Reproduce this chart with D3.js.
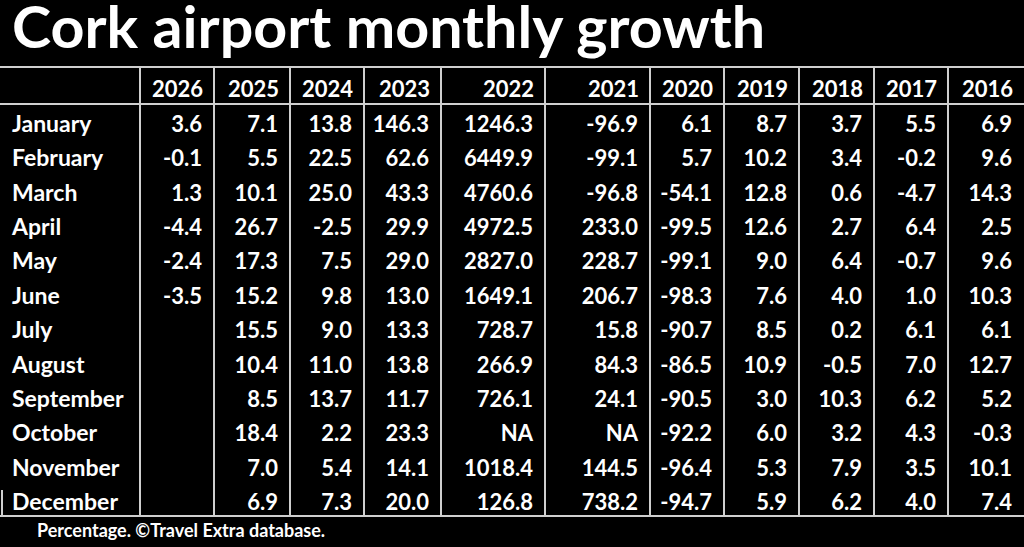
<!DOCTYPE html>
<html>
<head>
<meta charset="utf-8">
<script src="https://cdn.jsdelivr.net/npm/d3@7"></script>
<style>
  html, body { margin: 0; padding: 0; background: #000; }
  svg { display: block; }
  text { font-family: Lato, "Open Sans", sans-serif; font-weight: 700; fill: #fff; }
</style>
</head>
<body>
<svg id="chart" width="1024" height="547"></svg>
<script>
// table content
const months = ['January', 'February', 'March', 'April', 'May', 'June',
                'July', 'August', 'September', 'October', 'November', 'December'];
const years = ['2026', '2025', '2024', '2023', '2022', '2021', '2020', '2019', '2018', '2017', '2016'];

const y2026 = ['3.6', '-0.1', '1.3', '-4.4', '-2.4', '-3.5', '', '', '', '', '', ''];
const y2025 = ['7.1', '5.5', '10.1', '26.7', '17.3', '15.2', '15.5', '10.4', '8.5', '18.4', '7.0', '6.9'];
const y2024 = ['13.8', '22.5', '25.0', '-2.5', '7.5', '9.8', '9.0', '11.0', '13.7', '2.2', '5.4', '7.3'];
const y2023 = ['146.3', '62.6', '43.3', '29.9', '29.0', '13.0', '13.3', '13.8', '11.7', '23.3', '14.1', '20.0'];
const y2022 = ['1246.3', '6449.9', '4760.6', '4972.5', '2827.0', '1649.1', '728.7', '266.9', '726.1', 'NA', '1018.4', '126.8'];
const y2021 = ['-96.9', '-99.1', '-96.8', '233.0', '228.7', '206.7', '15.8', '84.3', '24.1', 'NA', '144.5', '738.2'];
const y2020 = ['6.1', '5.7', '-54.1', '-99.5', '-99.1', '-98.3', '-90.7', '-86.5', '-90.5', '-92.2', '-96.4', '-94.7'];
const y2019 = ['8.7', '10.2', '12.8', '12.6', '9.0', '7.6', '8.5', '10.9', '3.0', '6.0', '5.3', '5.9'];
const y2018 = ['3.7', '3.4', '0.6', '2.7', '6.4', '4.0', '0.2', '-0.5', '10.3', '3.2', '7.9', '6.2'];
const y2017 = ['5.5', '-0.2', '-4.7', '6.4', '-0.7', '1.0', '6.1', '7.0', '6.2', '4.3', '3.5', '4.0'];
const y2016 = ['6.9', '9.6', '14.3', '2.5', '9.6', '10.3', '6.1', '12.7', '5.2', '-0.3', '10.1', '7.4'];

const series = [y2026, y2025, y2024, y2023, y2022, y2021, y2020, y2019, y2018, y2017, y2016];

const title = 'Cork airport monthly growth';
const source = 'Percentage. \u00A9Travel Extra database.';

// layout
const colEdges = [140, 214, 290, 364, 441, 545, 650, 724, 799, 874, 948, 1024];
const lineTop = 67, headBottom = 104, lineBottom = 516;
const gridColor = '#cfcfcf';

const svg = d3.select('#chart');

svg.append('rect').attr('width', 1024).attr('height', 547).attr('fill', '#000');

// title
svg.append('text')
    .attr('x', 12)
    .attr('y', 48)
    .attr('font-size', 57)
    .attr('textLength', 753)
    .attr('lengthAdjust', 'spacingAndGlyphs')
    .text(title);

// right edge of each year column
const colRight = d3.scaleOrdinal().domain(years).range(colEdges.slice(1));

const rowY = d3.scalePoint().domain(months).range([132, 510]);

// grid lines
const grid = svg.append('g').attr('stroke', gridColor).attr('stroke-width', 2);
[lineTop, headBottom, lineBottom].forEach(y => {
    grid.append('line').attr('x1', 0).attr('x2', 1024).attr('y1', y).attr('y2', y);
});
grid.selectAll('line.v')
    .data(colEdges.slice(0, -1))
    .enter().append('line')
    .attr('class', 'v')
    .attr('x1', d => d).attr('x2', d => d)
    .attr('y1', lineTop).attr('y2', lineBottom);
grid.append('line')
    .attr('x1', 2).attr('x2', 2)
    .attr('y1', 490).attr('y2', lineBottom);

// header
svg.append('g').selectAll('text')
    .data(years)
    .enter().append('text')
    .attr('x', d => colRight(d) - 11)
    .attr('y', 97)
    .attr('text-anchor', 'end')
    .attr('font-size', 22)
    .text(d => d);

// month labels
svg.append('g').selectAll('text')
    .data(months)
    .enter().append('text')
    .attr('x', 12)
    .attr('y', d => rowY(d))
    .attr('font-size', 23)
    .text(d => d);

// cells
const cols = svg.append('g').selectAll('g')
    .data(series)
    .enter().append('g');

cols.selectAll('text')
    .data((vals, i) => vals.map((v, j) => ({ v: v, year: years[i], month: months[j] })))
    .enter().append('text')
    .attr('x', d => colRight(d.year) - 12)
    .attr('y', d => rowY(d.month))
    .attr('text-anchor', 'end')
    .attr('font-size', 22)
    .text(d => d.v);

// footer
svg.append('text')
    .attr('x', 37)
    .attr('y', 537)
    .attr('font-size', 18)
    .text(source);
</script>
</body>
</html>
